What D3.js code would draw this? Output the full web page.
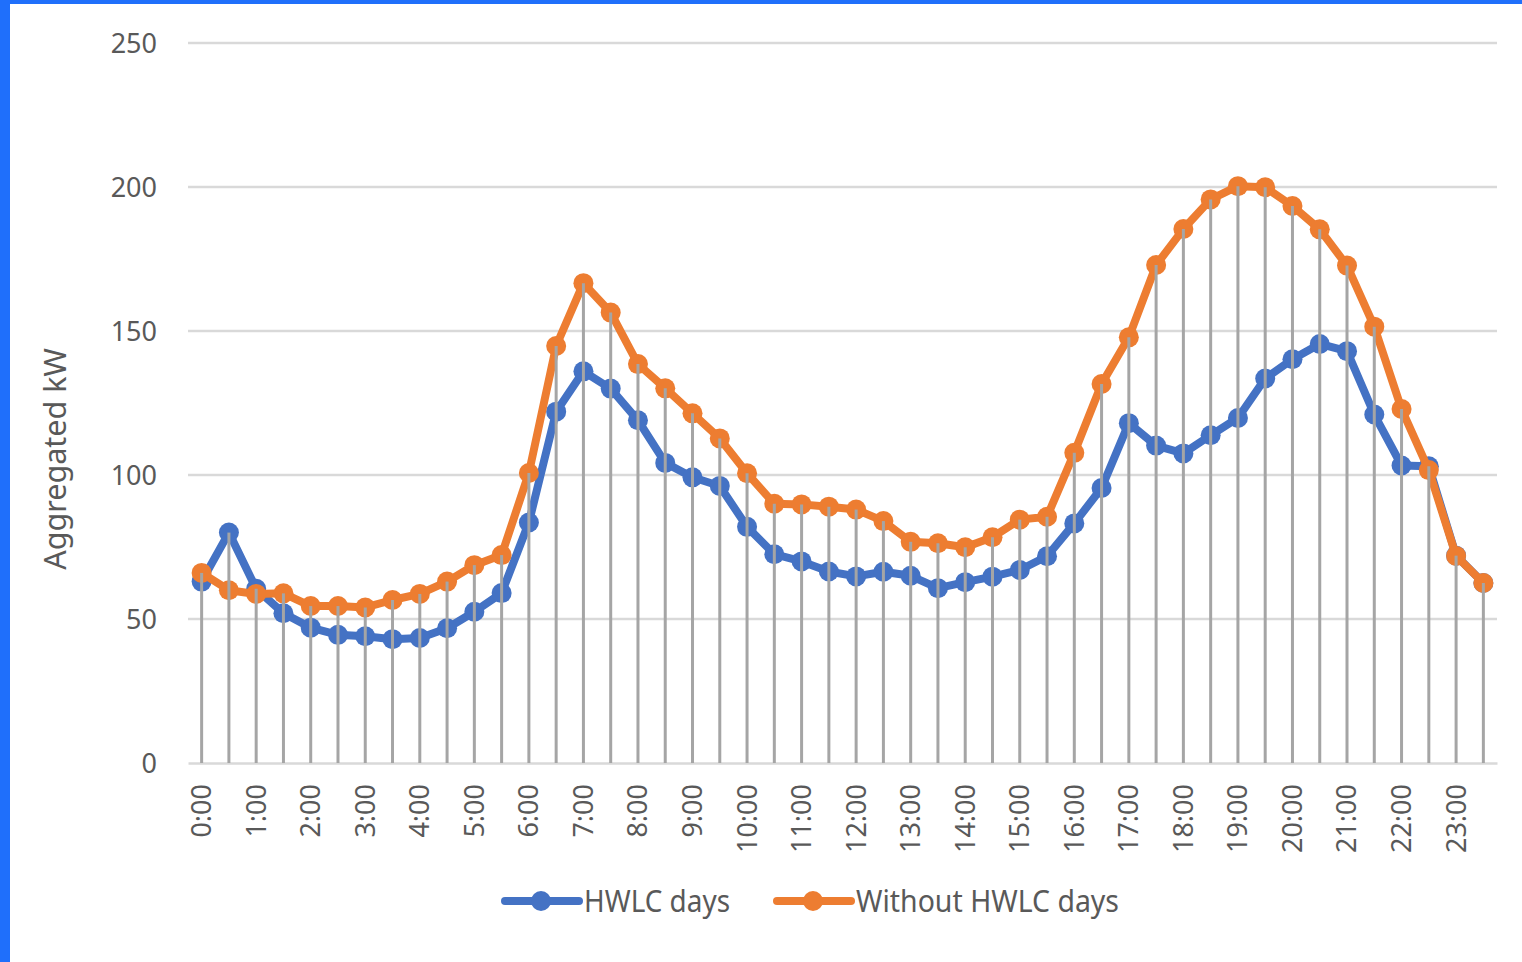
<!DOCTYPE html>
<html>
<head>
<meta charset="utf-8">
<script src="https://cdn.jsdelivr.net/npm/d3@7"></script>
<style>
  html, body { margin: 0; padding: 0; background: #ffffff; }
  svg { display: block; }
</style>
</head>
<body>
<svg id="chart" width="1522" height="962"></svg>
<script>
const categories = ["0:00","0:30","1:00","1:30","2:00","2:30","3:00","3:30","4:00","4:30","5:00","5:30",
  "6:00","6:30","7:00","7:30","8:00","8:30","9:00","9:30","10:00","10:30","11:00","11:30",
  "12:00","12:30","13:00","13:30","14:00","14:30","15:00","15:30","16:00","16:30","17:00","17:30",
  "18:00","18:30","19:00","19:30","20:00","20:30","21:00","21:30","22:00","22:30","23:00","23:30"];
const hwlcDays = [63, 80, 60.5, 52, 47, 44.5, 44, 43, 43.4, 46.8, 52.5, 59,
  83.5, 122, 136, 130, 119, 104.2, 99.2, 96.2, 82, 72.5, 70, 66.5,
  64.8, 66.4, 65, 60.7, 62.8, 64.7, 67, 71.8, 83.2, 95.5, 118, 110.2,
  107.5, 113.8, 119.8, 133.5, 140.2, 145.5, 143, 121, 103.3, 103, 72, 62.5];
const withoutHwlcDays = [66, 60, 58.7, 58.9, 54.5, 54.5, 54, 56.6, 58.7, 63, 68.7, 72.2,
  100.7, 144.8, 166.6, 156.4, 138.5, 130.1, 121.4, 112.7, 100.6, 90, 89.8, 89,
  88, 84, 76.8, 76.3, 74.9, 78.4, 84.5, 85.5, 107.7, 131.6, 147.8, 172.9,
  185.4, 195.7, 200.3, 199.9, 193.4, 185.3, 172.7, 151.5, 122.9, 101.7, 71.9, 62.5];
const seriesNames = ["HWLC days", "Without HWLC days"];
const seriesColors = ["#4472C4", "#ED7D31"];
const yTicks = [0, 50, 100, 150, 200, 250];
const xTickLabels = categories.filter((c, i) => i % 2 === 0);
const yTitle = "Aggregated kW";

const svg = d3.select("#chart");
const W = 1522, H = 962;
const mLeft = 188, mRight = 1497, mTop = 43, mBottom = 763;

// blue frame
svg.append("rect").attr("x", 0).attr("y", 0).attr("width", W).attr("height", H).attr("fill", "#ffffff");
svg.append("rect").attr("x", 0).attr("y", 0).attr("width", W).attr("height", 4).attr("fill", "#1f6ffb");
svg.append("rect").attr("x", 0).attr("y", 0).attr("width", 10).attr("height", H).attr("fill", "#1f6ffb");

const x = d3.scaleBand().domain(categories).range([mLeft, mRight]);
const xc = c => x(c) + x.bandwidth() / 2;
const y = d3.scaleLinear().domain([0, 250]).range([mBottom, mTop]);

const tickFont = "'Noto Sans', 'Open Sans', sans-serif";
const textColor = "#595959";

// gridlines
svg.append("g").selectAll("line").data(yTicks.filter(t => t > 0)).join("line")
  .attr("x1", mLeft).attr("x2", mRight)
  .attr("y1", d => y(d)).attr("y2", d => y(d))
  .attr("stroke", "#d9d9d9").attr("stroke-width", 2.5);

// y axis labels
const yAxis = d3.axisLeft(y).tickValues(yTicks).tickSize(0).tickPadding(0).tickFormat(d3.format("d"));
const gy = svg.append("g").attr("transform", `translate(${157},0)`).call(yAxis);
gy.select(".domain").remove();
gy.selectAll("text").attr("font-family", tickFont).attr("font-size", 27).attr("fill", textColor)
  .attr("dy", "0.35em");

// x axis
const xAxis = d3.axisBottom(x).tickValues(xTickLabels).tickSize(0).tickPadding(0);
const gx = svg.append("g").attr("transform", `translate(0,${mBottom})`).call(xAxis);
gx.select(".domain").attr("stroke", "#d9d9d9").attr("stroke-width", 2.5);
gx.selectAll("text")
  .attr("font-family", tickFont).attr("font-size", 27).attr("fill", textColor)
  .attr("transform", "rotate(-90)")
  .attr("x", -21).attr("y", 0).attr("dy", "0.35em")
  .attr("text-anchor", "end");

// y title
svg.append("text")
  .attr("transform", `translate(55,${459}) rotate(-90)`)
  .attr("text-anchor", "middle").attr("dy", "0.35em")
  .attr("font-family", tickFont).attr("font-size", 30.5).attr("fill", textColor)
  .text(yTitle);

// series
const allSeries = [hwlcDays, withoutHwlcDays];
const line = d3.line().x((d, i) => xc(categories[i])).y(d => y(d));
allSeries.forEach((vals, si) => {
  const g = svg.append("g");
  g.append("path").datum(vals).attr("d", line)
    .attr("fill", "none").attr("stroke", seriesColors[si]).attr("stroke-width", 8)
    .attr("stroke-linejoin", "round").attr("stroke-linecap", "round");
  g.selectAll("circle").data(vals).join("circle")
    .attr("cx", (d, i) => xc(categories[i])).attr("cy", d => y(d))
    .attr("r", 10).attr("fill", seriesColors[si]);
});

// drop lines
svg.append("g").selectAll("line").data(categories).join("line")
  .attr("x1", d => xc(d)).attr("x2", d => xc(d))
  .attr("y1", (d, i) => y(Math.max(hwlcDays[i], withoutHwlcDays[i])))
  .attr("y2", mBottom)
  .attr("stroke", "#a5a5a5").attr("stroke-width", 3);

// legend
const legendFont = "'Noto Sans', sans-serif";
const legendItems = [
  { name: seriesNames[0], color: seriesColors[0], x0: 505, w: 146 },
  { name: seriesNames[1], color: seriesColors[1], x0: 777, w: 263 }
];
const ly = 901;
const lg = svg.append("g");
legendItems.forEach(it => {
  lg.append("line").attr("x1", it.x0).attr("x2", it.x0 + 74).attr("y1", ly).attr("y2", ly)
    .attr("stroke", it.color).attr("stroke-width", 8).attr("stroke-linecap", "round");
  lg.append("circle").attr("cx", it.x0 + 36).attr("cy", ly).attr("r", 10).attr("fill", it.color);
  lg.append("text").attr("x", it.x0 + 79).attr("y", ly).attr("dy", "0.35em")
    .attr("font-family", legendFont).attr("font-size", 30).attr("fill", textColor)
    .attr("textLength", it.w).attr("lengthAdjust", "spacingAndGlyphs")
    .text(it.name);
});
</script>
</body>
</html>
